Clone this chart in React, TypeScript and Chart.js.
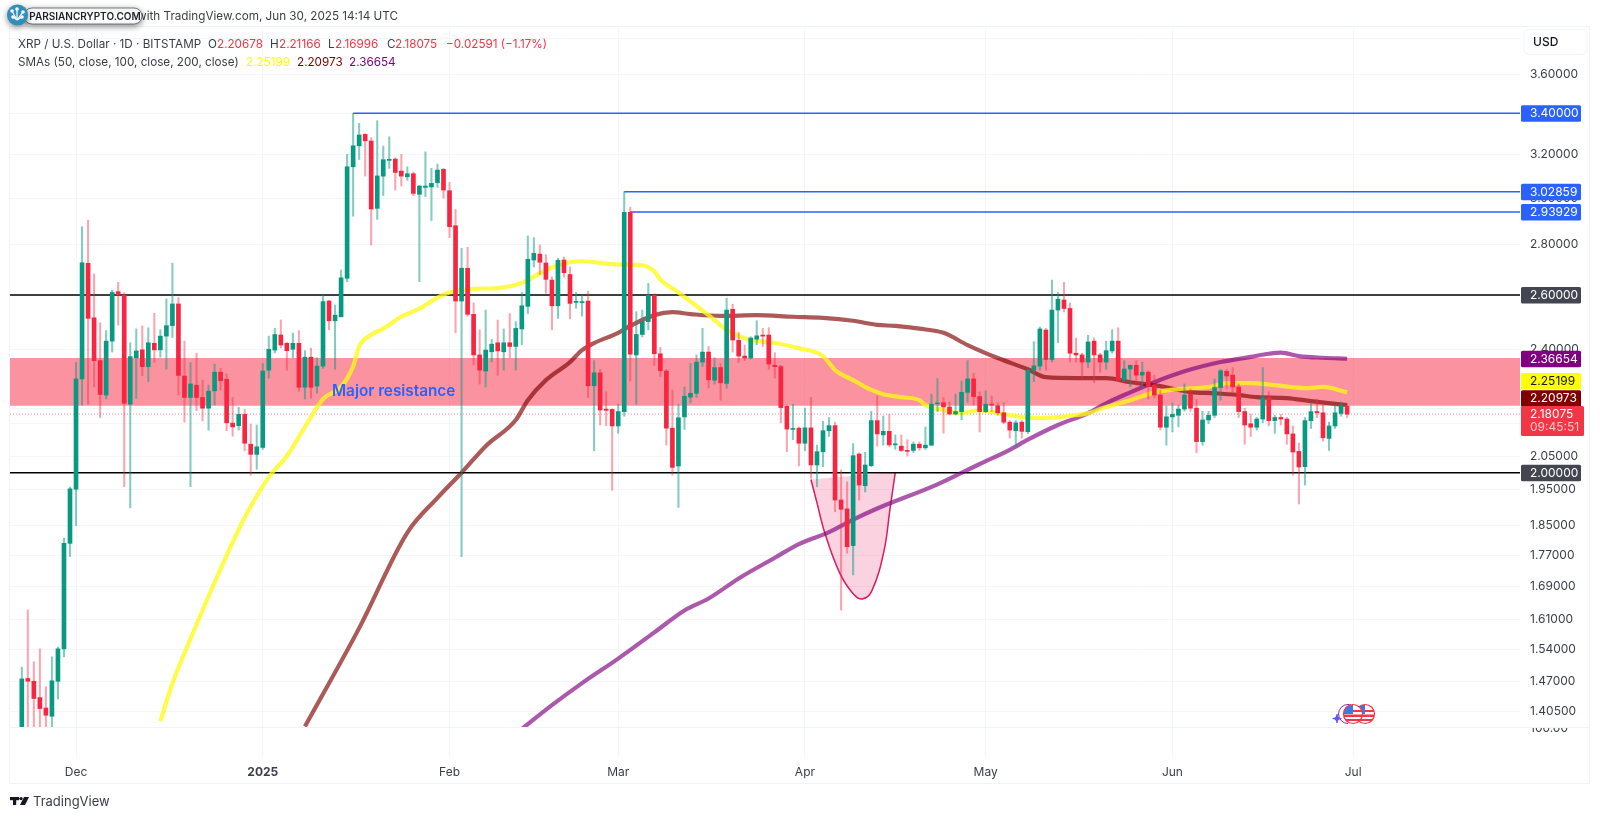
import React, { useEffect, useRef } from 'react';
import { Chart, registerables } from 'chart.js';
import type { ChartConfiguration } from 'chart.js';

Chart.register(...registerables);

// x axis unit is days counted from 1 Dec 2024, first candle is 22 Nov 2024
const FIRST_DAY = -9;

const opens = [
  1.37, 1.476, 1.47, 1.435, 1.413, 1.396, 1.47, 1.542, 1.802, 1.952,
  2.297, 2.725, 2.514, 2.36, 2.243, 2.429, 2.613, 2.6, 2.213, 2.37,
  2.398, 2.339, 2.421, 2.398, 2.447, 2.485, 2.566, 2.307, 2.235, 2.276,
  2.235, 2.2, 2.257, 2.32, 2.296, 2.152, 2.144, 2.18, 2.086, 2.055,
  2.076, 2.327, 2.397, 2.451, 2.421, 2.4, 2.421, 2.269, 2.372, 2.273,
  2.341, 2.577, 2.503, 2.518, 2.665, 3.142, 3.241, 3.296, 3.264, 2.955,
  3.099, 3.172, 3.178, 3.122, 3.096, 3.11, 3.017, 3.048, 3.05, 3.069,
  3.13, 3.033, 2.88, 2.577, 2.705, 2.527, 2.38, 2.324, 2.391, 2.423,
  2.391, 2.423, 2.41, 2.473, 2.557, 2.738, 2.762, 2.726, 2.658, 2.559,
  2.738, 2.68, 2.572, 2.571, 2.577, 2.274, 2.318, 2.197, 2.196, 2.143,
  2.189, 2.938, 2.38, 2.453, 2.5, 2.599, 2.384, 2.324, 2.136, 2.02,
  2.172, 2.236, 2.249, 2.355, 2.39, 2.293, 2.336, 2.282, 2.546, 2.432,
  2.376, 2.369, 2.436, 2.45, 2.451, 2.344, 2.339, 2.206, 2.132, 2.136,
  2.089, 2.137, 2.023, 2.063, 2.128, 2.144, 1.921, 1.896, 1.796, 2.056,
  1.962, 2.021, 2.16, 2.115, 2.126, 2.084, 2.08, 2.066, 2.067, 2.086,
  2.075, 2.083, 2.214, 2.218, 2.204, 2.181, 2.189, 2.252, 2.297, 2.238,
  2.189, 2.213, 2.208, 2.185, 2.155, 2.128, 2.155, 2.125, 2.327, 2.341,
  2.469, 2.364, 2.543, 2.581, 2.549, 2.386, 2.38, 2.355, 2.429, 2.38,
  2.355, 2.394, 2.429, 2.293, 2.331, 2.344, 2.31, 2.32, 2.276, 2.243,
  2.139, 2.172, 2.177, 2.197, 2.246, 2.2, 2.094, 2.162, 2.177, 2.268,
  2.323, 2.31, 2.27, 2.189, 2.15, 2.139, 2.165, 2.235, 2.16, 2.17,
  2.165, 2.118, 2.064, 2.018, 2.16, 2.189, 2.185, 2.104, 2.143, 2.183,
  2.20678,
];

const highs = [
  1.501, 1.633, 1.513, 1.542, 1.458, 1.524, 1.546, 1.816, 1.958, 2.353,
  2.876, 2.904, 2.682, 2.496, 2.467, 2.619, 2.649, 2.609, 2.423, 2.473,
  2.484, 2.477, 2.531, 2.47, 2.585, 2.725, 2.59, 2.429, 2.353, 2.386,
  2.293, 2.276, 2.348, 2.333, 2.314, 2.235, 2.203, 2.196, 2.149, 2.146,
  2.35, 2.447, 2.475, 2.506, 2.425, 2.458, 2.467, 2.395, 2.404, 2.37,
  2.6, 2.58, 2.562, 2.698, 3.2, 3.4, 3.35, 3.3, 3.28, 3.363,
  3.24, 3.284, 3.185, 3.2, 3.142, 3.117, 3.058, 3.212, 3.135, 3.155,
  3.135, 3.07, 2.95, 2.786, 2.79, 2.57, 2.47, 2.543, 2.435, 2.506,
  2.473, 2.53, 2.5, 2.61, 2.837, 2.83, 2.8, 2.76, 2.67, 2.745,
  2.75, 2.71, 2.61, 2.6, 2.615, 2.36, 2.33, 2.254, 2.198, 2.213,
  3.02859, 2.96, 2.537, 2.543, 2.645, 2.605, 2.407, 2.33, 2.26, 2.213,
  2.27, 2.35, 2.38, 2.475, 2.41, 2.37, 2.35, 2.588, 2.565, 2.46,
  2.415, 2.445, 2.503, 2.475, 2.478, 2.388, 2.344, 2.21, 2.213, 2.14,
  2.2, 2.235, 2.083, 2.158, 2.17, 2.155, 2.008, 1.973, 2.088, 2.06,
  2.061, 2.19, 2.24, 2.175, 2.18, 2.115, 2.115, 2.1, 2.093, 2.093,
  2.14, 2.246, 2.298, 2.235, 2.22, 2.246, 2.29, 2.36, 2.316, 2.254,
  2.257, 2.24, 2.218, 2.218, 2.16, 2.16, 2.16, 2.33, 2.427, 2.48,
  2.475, 2.658, 2.61, 2.649, 2.57, 2.44, 2.386, 2.45, 2.44, 2.386,
  2.429, 2.47, 2.477, 2.36, 2.344, 2.36, 2.355, 2.325, 2.31, 2.26,
  2.207, 2.217, 2.21, 2.28, 2.264, 2.228, 2.19, 2.19, 2.297, 2.33,
  2.33, 2.336, 2.28, 2.2, 2.181, 2.17, 2.336, 2.254, 2.177, 2.18,
  2.17, 2.143, 2.09, 2.17, 2.217, 2.23, 2.21, 2.155, 2.207, 2.22,
  2.21166,
];

const lows = [
  1.35, 1.36, 1.36, 1.36, 1.36, 1.37, 1.432, 1.524, 1.767, 1.85,
  2.21, 2.213, 2.27, 2.17, 2.23, 2.39, 2.487, 1.959, 1.899, 2.232,
  2.308, 2.288, 2.354, 2.372, 2.331, 2.442, 2.243, 2.155, 1.959, 2.192,
  2.159, 2.13, 2.21, 2.26, 2.128, 2.111, 2.13, 2.066, 1.993, 2.01,
  2.07, 2.3, 2.387, 2.404, 2.327, 2.37, 2.256, 2.23, 2.233, 2.249,
  2.333, 2.47, 2.33, 2.517, 2.652, 2.921, 3.176, 3.099, 2.799, 2.907,
  3.011, 3.135, 3.036, 3.054, 3.08, 3.011, 2.652, 3.007, 2.902, 3.048,
  3.0, 2.83, 2.459, 1.767, 2.52, 2.345, 2.28, 2.27, 2.355, 2.31,
  2.327, 2.37, 2.327, 2.416, 2.53, 2.71, 2.68, 2.607, 2.47, 2.512,
  2.67, 2.51, 2.55, 2.52, 2.235, 2.066, 2.146, 2.144, 1.949, 2.12,
  2.174, 2.29, 2.213, 2.444, 2.47, 2.343, 2.305, 2.083, 1.993, 1.9,
  2.132, 2.217, 2.235, 2.34, 2.267, 2.28, 2.226, 2.266, 2.39, 2.354,
  2.36, 2.366, 2.416, 2.41, 2.33, 2.3, 2.153, 2.063, 2.1, 2.02,
  2.066, 1.984, 1.959, 2.018, 2.11, 1.888, 1.633, 1.776, 1.72, 1.921,
  1.944, 2.018, 2.08, 2.083, 2.078, 2.07, 2.063, 2.05, 2.06, 2.067,
  2.07, 2.083, 2.189, 2.12, 2.178, 2.178, 2.163, 2.22, 2.21, 2.124,
  2.186, 2.189, 2.177, 2.15, 2.105, 2.078, 2.105, 2.119, 2.288, 2.327,
  2.327, 2.355, 2.423, 2.536, 2.355, 2.355, 2.3, 2.336, 2.284, 2.32,
  2.33, 2.386, 2.29, 2.29, 2.27, 2.276, 2.27, 2.23, 2.233, 2.13,
  2.083, 2.124, 2.14, 2.19, 2.19, 2.06, 2.083, 2.15, 2.17, 2.226,
  2.264, 2.254, 2.17, 2.086, 2.11, 2.13, 2.153, 2.143, 2.12, 2.146,
  2.086, 1.993, 1.91, 1.964, 2.135, 2.17, 2.096, 2.067, 2.135, 2.174,
  2.16996,
];

const closes = [
  1.475, 1.47, 1.433, 1.412, 1.398, 1.471, 1.542, 1.802, 1.953, 2.297,
  2.727, 2.512, 2.36, 2.245, 2.429, 2.61, 2.6, 2.216, 2.374, 2.394,
  2.339, 2.423, 2.398, 2.447, 2.485, 2.566, 2.309, 2.235, 2.28, 2.235,
  2.2, 2.256, 2.32, 2.291, 2.153, 2.14, 2.18, 2.089, 2.055, 2.078,
  2.324, 2.4, 2.453, 2.415, 2.395, 2.421, 2.269, 2.372, 2.269, 2.341,
  2.575, 2.503, 2.524, 2.667, 3.142, 3.241, 3.293, 3.265, 2.952, 3.1,
  3.175, 3.176, 3.116, 3.099, 3.11, 3.021, 3.054, 3.054, 3.066, 3.127,
  3.036, 2.876, 2.577, 2.705, 2.527, 2.38, 2.327, 2.397, 2.418, 2.394,
  2.423, 2.41, 2.475, 2.559, 2.741, 2.765, 2.729, 2.661, 2.559, 2.737,
  2.687, 2.568, 2.576, 2.574, 2.274, 2.318, 2.194, 2.193, 2.143, 2.189,
  2.938, 2.383, 2.453, 2.5, 2.599, 2.384, 2.325, 2.136, 2.016, 2.169,
  2.239, 2.249, 2.355, 2.39, 2.294, 2.336, 2.284, 2.543, 2.433, 2.376,
  2.369, 2.44, 2.448, 2.447, 2.348, 2.339, 2.202, 2.133, 2.135, 2.089,
  2.137, 2.023, 2.063, 2.128, 2.144, 1.921, 1.895, 1.793, 2.051, 1.964,
  2.023, 2.16, 2.118, 2.126, 2.084, 2.087, 2.067, 2.064, 2.086, 2.075,
  2.083, 2.213, 2.216, 2.204, 2.181, 2.189, 2.252, 2.297, 2.238, 2.189,
  2.213, 2.21, 2.185, 2.155, 2.13, 2.153, 2.126, 2.327, 2.342, 2.473,
  2.364, 2.543, 2.584, 2.549, 2.386, 2.38, 2.355, 2.426, 2.38, 2.355,
  2.395, 2.429, 2.293, 2.331, 2.344, 2.31, 2.32, 2.273, 2.243, 2.139,
  2.172, 2.18, 2.197, 2.243, 2.2, 2.094, 2.162, 2.177, 2.268, 2.325,
  2.307, 2.27, 2.189, 2.146, 2.139, 2.165, 2.235, 2.16, 2.17, 2.165,
  2.118, 2.062, 2.017, 2.16, 2.189, 2.185, 2.106, 2.143, 2.185, 2.207,
  2.18075,
];

const sma50Days = [14, 16, 19, 24, 28, 32, 35, 38, 41, 44, 46, 47, 49, 51, 54, 57, 60, 62, 66, 70, 74, 77, 80, 84, 90, 94, 96, 97, 100, 105, 108, 112, 115, 120, 124, 126, 129, 132, 134, 137, 140, 141, 144, 147, 150, 153, 157, 160, 165, 168, 171, 175, 179, 183, 188, 191, 195, 199, 204, 207, 211];
const sma50Values = [1.386, 1.465, 1.565, 1.735, 1.872, 1.987, 2.05, 2.14, 2.23, 2.27, 2.34, 2.41, 2.452, 2.474, 2.518, 2.548, 2.59, 2.61, 2.624, 2.627, 2.647, 2.684, 2.717, 2.733, 2.72, 2.717, 2.692, 2.66, 2.61, 2.524, 2.47, 2.433, 2.426, 2.404, 2.376, 2.327, 2.293, 2.26, 2.246, 2.236, 2.226, 2.21, 2.194, 2.184, 2.194, 2.184, 2.172, 2.168, 2.175, 2.184, 2.204, 2.226, 2.252, 2.263, 2.27, 2.283, 2.283, 2.276, 2.266, 2.27, 2.25199];

const sma100Days = [38, 47, 55, 60, 64, 68, 73, 75, 78, 82, 84, 86, 90, 92, 96, 99, 102, 107, 113, 119, 124, 129, 133, 136, 140, 144, 148, 153, 158, 161, 166, 171, 175, 179, 183, 185, 189, 193, 196, 201, 205, 211];
const sma100Values = [1.375, 1.59, 1.831, 1.927, 2.0, 2.08, 2.162, 2.226, 2.293, 2.355, 2.397, 2.422, 2.459, 2.484, 2.524, 2.535, 2.528, 2.521, 2.524, 2.518, 2.514, 2.503, 2.488, 2.484, 2.474, 2.459, 2.415, 2.369, 2.33, 2.303, 2.3, 2.3, 2.286, 2.276, 2.26, 2.253, 2.249, 2.243, 2.236, 2.233, 2.223, 2.20973];

const sma200Days = [74, 79, 84, 90, 96, 101, 105, 110, 116, 120, 125, 129, 133, 143, 150, 155, 158, 163, 168, 171, 175, 179, 184, 190, 195, 198, 200, 203, 207, 211];
const sma200Values = [1.37, 1.419, 1.466, 1.52, 1.58, 1.632, 1.661, 1.711, 1.764, 1.8, 1.832, 1.866, 1.897, 1.966, 2.026, 2.069, 2.1, 2.146, 2.184, 2.216, 2.252, 2.286, 2.323, 2.355, 2.373, 2.384, 2.388, 2.376, 2.37, 2.36654];

const cupDays = [122, 123, 124.3, 126.8, 129, 130.5, 132.1, 134.1, 135.1, 136];
const cupPrices = [1.98, 1.913, 1.83, 1.724, 1.673, 1.66, 1.68, 1.78, 1.893, 2.002];

const monthDays = [0, 31, 62, 90, 121, 151, 182, 212];
const monthLabels = ['Dec', '2025', 'Feb', 'Mar', 'Apr', 'May', 'Jun', 'Jul'];

const priceTicks = [3.8, 3.6, 3.4, 3.2, 3.0, 2.8, 2.6, 2.4, 2.2, 2.15, 2.05, 2.0, 1.95, 1.85, 1.77, 1.69, 1.61, 1.54, 1.47, 1.405];

const resistanceTop = 2.369;
const resistanceBottom = 2.2075;

const blueLevels = [3.4, 3.02859, 2.93929];
const blueLevelStarts = [46, 91, 92];
const blackLevels = [2.6, 2.0];
const lastClose = 2.18075;

const X_MIN = -10.96;
const X_MAX = 239.7;
const Y_MIN = 1.374;
const Y_MAX = 3.868;

const FONT = 'Inter, "Noto Sans", sans-serif';
const GREEN = '#089981';
const RED = '#f7253f';
const GRID = 'rgba(240,243,250,0.75)';
const TEXT = '#3b3e48';

const days = opens.map((_, i) => FIRST_DAY + i);
const pts = (xs: number[], ys: number[]) => xs.map((x, i) => ({ x, y: ys[i] }));

const text = (ctx: CanvasRenderingContext2D, s: string, x: number, y: number, font: string, color: string, align: CanvasTextAlign = 'left') => {
  ctx.font = font;
  ctx.fillStyle = color;
  ctx.textAlign = align;
  ctx.textBaseline = 'middle';
  ctx.fillText(s, x, y);
};

const flag = (ctx: CanvasRenderingContext2D, cx: number, cy: number, r: number) => {
  ctx.save();
  ctx.beginPath();
  ctx.arc(cx, cy, r, 0, Math.PI * 2);
  ctx.fillStyle = '#fff';
  ctx.fill();
  ctx.clip();
  ctx.fillStyle = '#f23645';
  ctx.fillRect(cx - r, cy + 0.5, r * 2, 2.5);
  ctx.fillRect(cx - r, cy + 5, r * 2, 2);
  ctx.fillRect(cx, cy - 4, r, 2);
  ctx.fillStyle = '#2f80ed';
  ctx.fillRect(cx - r, cy - r, r, r);
  ctx.restore();
  ctx.beginPath();
  ctx.arc(cx, cy, r, 0, Math.PI * 2);
  ctx.strokeStyle = '#f23645';
  ctx.lineWidth = 1.2;
  ctx.stroke();
};

// frame, header lines, drawing label and the bits around the axes
const chromePlugin = {
  id: 'chrome',
  beforeDraw: (chart: Chart) => {
    const ctx = chart.ctx;
    ctx.save();
    ctx.fillStyle = '#fff';
    ctx.fillRect(0, 0, chart.width, chart.height);
    ctx.strokeStyle = '#f0f3fa';
    ctx.lineWidth = 1;
    ctx.strokeRect(9.5, 26.5, 1580, 757);
    ctx.beginPath();
    ctx.moveTo(10, 727.5);
    ctx.lineTo(1590, 727.5);
    ctx.stroke();
    ctx.restore();
  },
  afterDraw: (chart: Chart) => {
    const ctx = chart.ctx;
    const y = chart.scales.y;
    ctx.save();

    // "Major resistance" sits over the candles
    text(ctx, 'Major resistance', 332, y.getPixelForValue(2.255), `600 15.3px ${FONT}`, '#2962ff');

    // volume pane axis label, cut by the pane border
    ctx.save();
    ctx.beginPath();
    ctx.rect(1522, 728, 66, 10);
    ctx.clip();
    text(ctx, '100.00', 1549, 728, `12px ${FONT}`, TEXT, 'center');
    ctx.restore();

    // economic event icons
    flag(ctx, 1365, 714, 9.5);
    ctx.beginPath();
    ctx.arc(1348, 714, 9.5, Math.PI * 0.5, Math.PI * 1.6);
    ctx.strokeStyle = '#8e24aa';
    ctx.lineWidth = 1;
    ctx.stroke();
    flag(ctx, 1353, 714, 9.5);
    ctx.beginPath();
    const sx = 1337;
    const sy = 718.5;
    ctx.moveTo(sx - 4.5, sy);
    ctx.quadraticCurveTo(sx, sy, sx, sy - 4.5);
    ctx.quadraticCurveTo(sx, sy, sx + 4.5, sy);
    ctx.quadraticCurveTo(sx, sy, sx, sy + 4.5);
    ctx.quadraticCurveTo(sx, sy, sx - 4.5, sy);
    ctx.fillStyle = '#5b5bf0';
    ctx.fill();
    ctx.strokeStyle = '#5b5bf0';
    ctx.stroke();

    // price tags on the right axis
    const tag = (value: number, label: string, bg: string, fg: string, shift = 0) => {
      const py = y.getPixelForValue(value) + shift;
      ctx.fillStyle = bg;
      ctx.beginPath();
      ctx.roundRect(1521, py - 8, 60, 16.5, 1.5);
      ctx.fill();
      text(ctx, label, 1530, py + 0.5, `12px ${FONT}`, fg);
    };
    tag(3.4, '3.40000', '#2962ff', '#fff');
    tag(3.02859, '3.02859', '#2962ff', '#fff');
    tag(2.93929, '2.93929', '#2962ff', '#fff');
    tag(2.6, '2.60000', '#434651', '#fff');
    tag(2.0, '2.00000', '#434651', '#fff');
    tag(2.36654, '2.36654', '#800080', '#fff');
    tag(2.25199, '2.25199', '#ffff00', '#131722', -11.4);
    tag(2.20973, '2.20973', '#800000', '#fff', -7);
    ctx.fillStyle = '#f23645';
    ctx.beginPath();
    ctx.roundRect(1521, 406, 63, 30, 1.5);
    ctx.fill();
    text(ctx, '2.18075', 1530, 414.5, `12px ${FONT}`, '#fff');
    text(ctx, '09:45:51', 1530, 427.5, `12px ${FONT}`, '#fbc7cc');

    // USD button, hides the 3.8 tick
    ctx.fillStyle = '#fff';
    ctx.strokeStyle = '#f0f3fa';
    ctx.lineWidth = 1;
    ctx.beginPath();
    ctx.roundRect(1524, 29.5, 63, 25, 5);
    ctx.fill();
    ctx.stroke();
    text(ctx, 'USD', 1533, 42.5, `500 12px ${FONT}`, '#131722');

    // published line and watermark pill
    text(ctx, 'with TradingView.com, Jun 30, 2025 14:14 UTC', 398, 16.5, `11.7px ${FONT}`, TEXT, 'right');
    ctx.save();
    ctx.shadowColor = 'rgba(0,0,0,0.45)';
    ctx.shadowBlur = 6;
    ctx.shadowOffsetY = 2;
    ctx.fillStyle = '#fff';
    ctx.strokeStyle = '#55585f';
    ctx.lineWidth = 0.8;
    ctx.beginPath();
    ctx.roundRect(24, 8, 118, 16, 8);
    ctx.fill();
    ctx.stroke();
    ctx.fillStyle = '#2f8fb8';
    ctx.beginPath();
    ctx.arc(17.5, 15, 10.5, 0, Math.PI * 2);
    ctx.fill();
    ctx.restore();
    ctx.fillStyle = '#fff';
    ctx.strokeStyle = '#fff';
    ctx.lineWidth = 1.2;
    [[12, 11], [17, 9], [23, 12], [13, 17], [22, 17]].forEach(([bx, by]) => {
      ctx.beginPath();
      ctx.arc(bx, by, 1.8, 0, Math.PI * 2);
      ctx.fill();
      ctx.beginPath();
      ctx.moveTo(bx, by);
      ctx.lineTo(17, 20);
      ctx.stroke();
    });
    text(ctx, 'PARSIANCRYPTO.COM', 85, 16.5, `600 10px ${FONT}`, '#1c1f26', 'center');

    // symbol legend
    const row = `11.7px ${FONT}`;
    text(ctx, 'XRP / U.S. Dollar · 1D · BITSTAMP', 18, 44.5, row, TEXT);
    text(ctx, 'O', 208, 44.5, row, TEXT);
    text(ctx, '2.20678', 217, 44.5, row, '#f23645');
    text(ctx, 'H', 270, 44.5, row, TEXT);
    text(ctx, '2.21166', 279, 44.5, row, '#f23645');
    text(ctx, 'L', 328, 44.5, row, TEXT);
    text(ctx, '2.16996', 335, 44.5, row, '#f23645');
    text(ctx, 'C', 387, 44.5, row, TEXT);
    text(ctx, '2.18075', 395, 44.5, row, '#f23645');
    text(ctx, '−0.02591 (−1.17%)', 446, 44.5, row, '#f23645');
    text(ctx, 'SMAs (50, close, 100, close, 200, close)', 18, 62.5, row, TEXT);
    text(ctx, '2.25199', 246, 62.5, row, '#ffff00');
    text(ctx, '2.20973', 297, 62.5, row, '#800000');
    text(ctx, '2.36654', 349, 62.5, row, '#800080');

    // TradingView footer
    ctx.fillStyle = '#131722';
    ctx.fillRect(10, 797, 9, 3.2);
    ctx.fillRect(13, 797, 3.2, 8);
    ctx.beginPath();
    ctx.arc(21, 798.6, 1.7, 0, Math.PI * 2);
    ctx.fill();
    ctx.beginPath();
    ctx.moveTo(24, 797);
    ctx.lineTo(29, 797);
    ctx.lineTo(25, 805);
    ctx.lineTo(20, 805);
    ctx.fill();
    text(ctx, 'TradingView', 33, 802, `13px ${FONT}`, TEXT);

    ctx.restore();
  },
};

const level = (x0: number, value: number, color: string, width: number, dash: number[] = []) => ({
  type: 'line' as const,
  data: [{ x: x0, y: value }, { x: X_MAX, y: value }],
  borderColor: color,
  borderWidth: width,
  borderDash: dash,
  pointRadius: 0,
  order: 5,
});

const smaLine = (xs: number[], ys: number[], color: string) => ({
  type: 'line' as const,
  data: pts(xs, ys),
  borderColor: color,
  borderWidth: 4.2,
  pointRadius: 0,
  cubicInterpolationMode: 'monotone' as const,
  order: 3,
});

const App: React.FC = () => {
  const canvasRef = useRef<HTMLCanvasElement>(null);

  useEffect(() => {
    document.body.style.margin = '0';
    if (!canvasRef.current) return;

    const config = {
      type: 'bar',
      data: {
        datasets: [
          {
            // candle bodies
            data: days.map((x, i) => ({ x, y: [opens[i], closes[i]] })),
            backgroundColor: days.map((_, i) => (closes[i] >= opens[i] ? GREEN : RED)),
            barThickness: 4,
            minBarLength: 1,
            grouped: false,
            order: 1,
          },
          {
            // wicks
            data: days.map((x, i) => ({ x, y: [lows[i], highs[i]] })),
            backgroundColor: days.map((_, i) => (closes[i] >= opens[i] ? 'rgba(8,153,129,0.5)' : 'rgba(247,37,63,0.42)')),
            barThickness: 1.4,
            grouped: false,
            order: 2,
          },
          smaLine(sma50Days, sma50Values, 'rgba(255,250,20,0.78)'),
          smaLine(sma100Days, sma100Values, 'rgba(128,0,0,0.65)'),
          smaLine(sma200Days, sma200Values, 'rgba(128,0,128,0.65)'),
          ...blueLevels.map((v, i) => level(blueLevelStarts[i], v, '#2962ff', 1.5)),
          ...blackLevels.map((v) => level(X_MIN, v, '#000', 1.5)),
          level(X_MIN, lastClose, 'rgba(242,54,69,0.55)', 1, [1, 2]),
          {
            // double bottom cup drawing
            type: 'line',
            data: pts(cupDays, cupPrices),
            borderColor: '#dc1a5e',
            borderWidth: 1.5,
            backgroundColor: 'rgba(233,30,99,0.2)',
            fill: 'shape',
            tension: 0.4,
            pointRadius: 0,
            order: 6,
          },
          {
            // major resistance zone
            type: 'line',
            data: [{ x: X_MIN, y: resistanceTop }, { x: X_MAX, y: resistanceTop }],
            borderWidth: 0,
            backgroundColor: 'rgba(246,48,70,0.52)',
            fill: { target: { value: resistanceBottom } },
            pointRadius: 0,
            order: 7,
          },
        ],
      },
      options: {
        responsive: false,
        animation: false,
        devicePixelRatio: 1,
        layout: { padding: { left: 10, top: 26, right: 10, bottom: 35 } },
        plugins: { legend: { display: false }, tooltip: { enabled: false } },
        scales: {
          x: {
            type: 'linear',
            min: X_MIN,
            max: X_MAX,
            offset: false,
            afterFit: (axis: any) => { axis.height = 57; },
            afterBuildTicks: (axis: any) => { axis.ticks = monthDays.map((value) => ({ value })); },
            border: { display: false },
            grid: { color: GRID, tickLength: 30, tickColor: GRID, offset: false },
            ticks: {
              autoSkip: false,
              maxRotation: 0,
              padding: 8,
              color: TEXT,
              font: (c: any) => ({ family: FONT, size: 12, weight: c.tick && c.tick.value === 31 ? 'bold' : 'normal' }),
              callback: (value: any) => monthLabels[monthDays.indexOf(value)],
            },
          },
          y: {
            type: 'logarithmic',
            position: 'right',
            min: Y_MIN,
            max: Y_MAX,
            afterFit: (axis: any) => { axis.width = 70; },
            afterBuildTicks: (axis: any) => { axis.ticks = priceTicks.map((value) => ({ value })); },
            border: { display: false },
            grid: { color: GRID, drawTicks: false },
            ticks: {
              autoSkip: false,
              padding: 10,
              color: TEXT,
              font: { family: FONT, size: 12 },
              callback: (value: any) => Number(value).toFixed(5),
            },
          },
        },
      },
      plugins: [chromePlugin],
    } as unknown as ChartConfiguration;

    const chart = new Chart(canvasRef.current, config);
    return () => chart.destroy();
  }, []);

  return <canvas ref={canvasRef} width={1600} height={819} style={{ display: 'block' }} />;
};

export default App;
